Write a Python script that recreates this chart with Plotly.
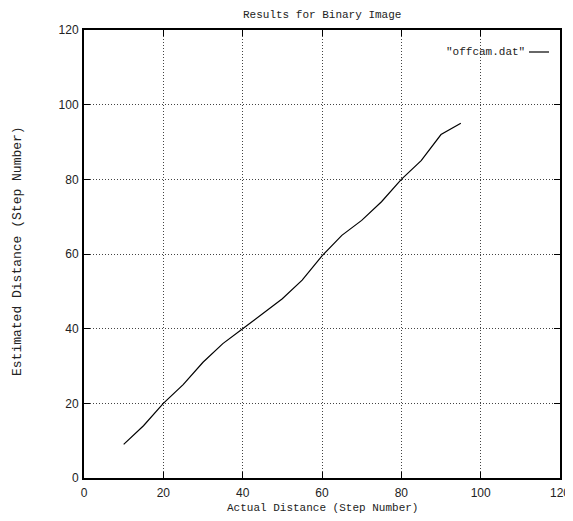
import plotly.graph_objects as go

actual = [10, 15, 20, 25, 30, 35, 40, 45, 50, 55, 60, 65, 70, 75, 80, 85, 90, 95]
estimated = [9, 14, 20, 25, 31, 36, 40, 44, 48, 53, 59.5, 65, 69, 74, 80, 85, 92, 95]
tick_vals = [0, 20, 40, 60, 80, 100, 120]
series_name = '"offcam.dat"'

mono = "Liberation Mono, Courier New, monospace"
sans = "Liberation Sans, Arial, sans-serif"

# page body has an 8px margin; size/margins compensate so the plot area
# lands at x 84..560, y 30..478 in the 573x521 window
W, H = 565, 513
L, R, T, B = 76, 13, 22, 43
PW, PH = W - L - R, H - T - B

fig = go.Figure()
fig.add_trace(go.Scatter(x=actual, y=estimated, mode="lines",
                         line=dict(color="black", width=1.2), name=series_name,
                         showlegend=False))

axis_common = dict(
    range=[0, 120], tickvals=tick_vals, ticks="inside", ticklen=6, tickwidth=1,
    tickcolor="black", showline=True, linecolor="black", linewidth=2, mirror="allticks",
    showgrid=True, gridcolor="#444444", griddash="1px,2px", gridwidth=1, zeroline=False,
    tickfont=dict(family=sans, size=12, color="#222222"), ticklabeloverflow="allow",
    automargin=False,
)

fig.update_layout(
    width=W, height=H, autosize=False,
    margin=dict(l=L, r=R, t=T, b=B),
    paper_bgcolor="white", plot_bgcolor="white",
    xaxis=dict(**axis_common, ticklabelstandoff=3),
    yaxis=dict(**axis_common, ticklabelstandoff=1),
    showlegend=False,
)

fig.add_annotation(text="Results for Binary Image", xref="paper", yref="paper",
                   x=0.5, y=1, yshift=15, xanchor="center", yanchor="middle", showarrow=False,
                   font=dict(family=mono, size=11, color="#222222"))
fig.add_annotation(text="Actual Distance (Step Number)", xref="paper", yref="paper",
                   x=0.5, y=0, yshift=-30, xanchor="center", yanchor="middle", showarrow=False,
                   font=dict(family=mono, size=11, color="#222222"))
fig.add_annotation(text="Estimated Distance (Step Number)", xref="paper", yref="paper",
                   x=0, y=0.5, xshift=-67, yshift=3, xanchor="center", yanchor="middle",
                   textangle=-90, showarrow=False,
                   font=dict(family=mono, size=13, color="#222222"))

# legend key (gnuplot style: text then line sample)
ky = (478 - 52) / PH
fig.add_annotation(text=series_name, xref="paper", yref="paper",
                   x=(527 - 84) / PW, y=ky, xanchor="right", yanchor="middle", showarrow=False,
                   font=dict(family=mono, size=11, color="#222222"))
fig.add_shape(type="line", xref="paper", yref="paper",
              x0=(529 - 84) / PW, x1=(549 - 84) / PW, y0=ky, y1=ky,
              line=dict(color="black", width=1.2))

fig.write_html("out.html", config={"responsive": False})
